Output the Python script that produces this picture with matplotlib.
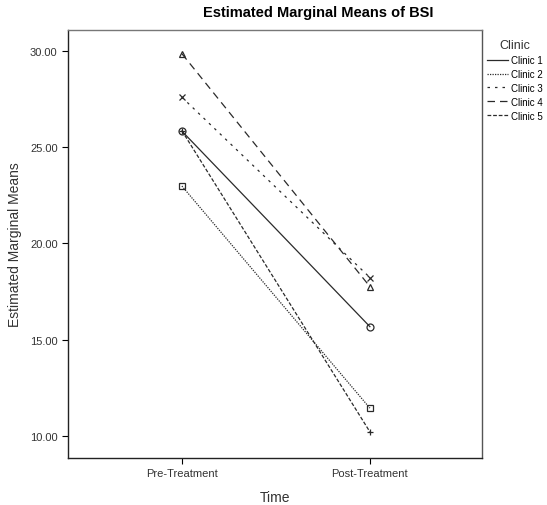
import matplotlib
matplotlib.use("Agg")
import matplotlib.pyplot as plt

plt.rcParams["font.family"] = ["Liberation Sans", "DejaVu Sans"]

# Data
times = ["Pre-Treatment", "Post-Treatment"]
clinics = ["Clinic 1", "Clinic 2", "Clinic 3", "Clinic 4", "Clinic 5"]
clinic1 = [25.83, 15.68]
clinic2 = [22.98, 11.45]
clinic3 = [27.59, 18.23]
clinic4 = [29.85, 17.76]
clinic5 = [25.85, 10.22]
series = [clinic1, clinic2, clinic3, clinic4, clinic5]

# styles per clinic
styles = [
    {"linestyle": "-", "marker": "o"},
    {"linestyle": (0, (1, 1)), "marker": "s"},
    {"linestyle": (0, (2, 4)), "marker": "x"},
    {"linestyle": (0, (6, 4)), "marker": "^"},
    {"linestyle": (0, (3, 1.5)), "marker": "+"},
]

fig = plt.figure(figsize=(5.47, 5.06), dpi=100)
ax = fig.add_axes([0.1243, 0.0929, 0.7567, 0.8458])

xs = list(range(len(times)))
for name, vals, st in zip(clinics, series, styles):
    ax.plot(xs, vals, color="#2a2a2a", linewidth=0.9, markersize=5,
            markerfacecolor="none", markeredgecolor="#2a2a2a",
            markeredgewidth=0.9, label=name, **st)

ax.set_xlim(-0.606, 1.596)
ax.set_ylim(8.86, 31.08)
ax.set_xticks(xs)
ax.set_xticklabels(times)
ax.set_yticks([10, 15, 20, 25, 30])
ax.set_yticklabels(["%.2f" % v for v in [10, 15, 20, 25, 30]])
ax.tick_params(labelsize=8, labelcolor="#333333", length=4, direction="out",
               top=False, right=False)

for s in ax.spines.values():
    s.set_linewidth(1.0)
ax.spines["top"].set_color("#777777")
ax.spines["right"].set_color("#555555")
ax.spines["left"].set_color("#222222")
ax.spines["bottom"].set_color("#222222")

ax.set_xlabel("Time", fontsize=10, color="#333333", labelpad=8)
ax.set_ylabel("Estimated Marginal Means", fontsize=10, color="#333333", labelpad=6)

fig.text(0.581, 0.975, "Estimated Marginal Means of BSI", ha="center", va="center",
         fontsize=10.5, fontweight="bold")

leg = ax.legend(loc="upper left", bbox_to_anchor=(1.0, 0.99), frameon=False,
                title="Clinic", fontsize=7, title_fontsize=9,
                handlelength=2.2, handletextpad=0.3, labelspacing=0.4,
                borderaxespad=0.1)
leg.get_title().set_color("#333333")
for h in leg.legend_handles:
    h.set_marker("")

fig.savefig("out.png", dpi=100)
